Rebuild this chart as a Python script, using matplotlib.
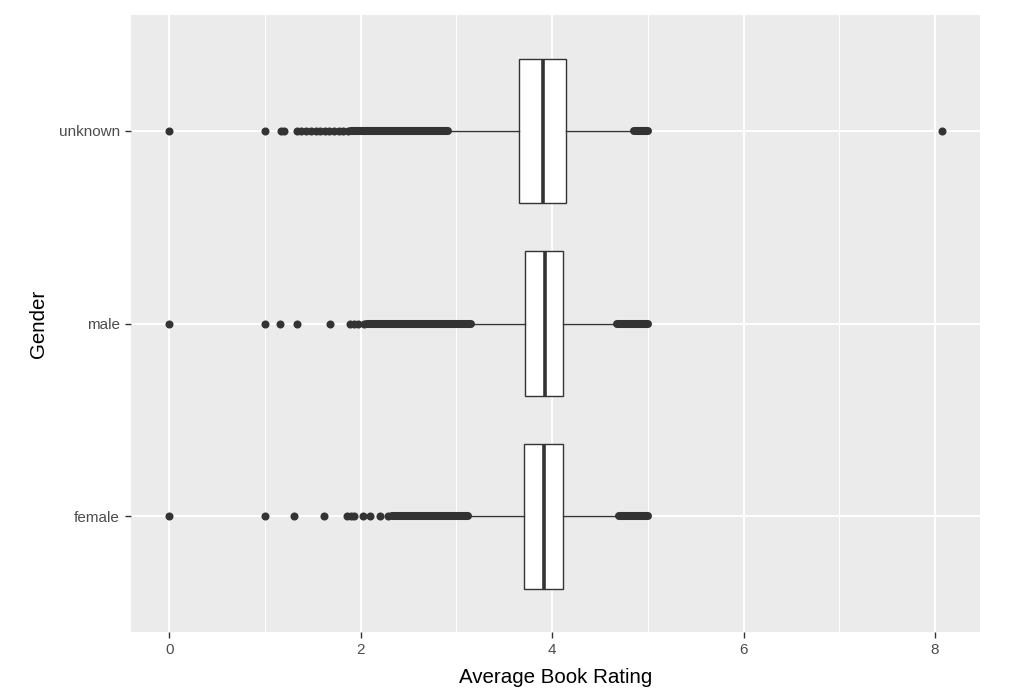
import matplotlib
matplotlib.use("Agg")
import matplotlib.pyplot as plt
from matplotlib.ticker import MultipleLocator

plt.rcParams['font.family'] = ['Liberation Sans', 'DejaVu Sans']

# gender groups, bottom to top
genders = ["female", "male", "unknown"]

# box statistics (q1, median, q3, whisker low, whisker high)
q1 = [3.71, 3.72, 3.65]
medians = [3.91, 3.93, 3.90]
q3 = [4.11, 4.11, 4.14]
whisk_lo = [3.13, 3.16, 2.93]
whisk_hi = [4.70, 4.68, 4.86]

# single outliers
outliers = {
    "female": [0.0, 1.0, 1.30, 1.62, 1.86, 1.90, 1.93, 2.02, 2.10, 2.20, 2.29],
    "male": [0.0, 1.0, 1.16, 1.33, 1.68, 1.89, 1.93, 1.97, 2.03],
    "unknown": [0.0, 1.0, 1.17, 1.20, 1.33, 1.38, 1.43, 1.48, 1.53, 1.58,
                1.63, 1.67, 1.72, 1.77, 1.82, 1.87, 8.07],
}
# runs of outliers so dense they merge into a bar (low, high)
dense_runs = {
    "female": [(2.33, 3.12), (4.70, 5.0)],
    "male": [(2.07, 3.15), (4.68, 5.0)],
    "unknown": [(1.90, 2.91), (4.86, 5.0)],
}

fig = plt.figure(figsize=(10.23, 6.90), dpi=100)
ax = fig.add_axes([0.128, 0.084, 0.83, 0.894])
ax.set_facecolor("#EBEBEB")

stats = []
for i, g in enumerate(genders):
    stats.append({"label": g, "q1": q1[i], "med": medians[i], "q3": q3[i],
                  "whislo": whisk_lo[i], "whishi": whisk_hi[i], "fliers": []})

dark = "#333333"
ax.bxp(stats, positions=[1, 2, 3], widths=0.75, vert=False, showcaps=False,
       showfliers=False, patch_artist=True,
       boxprops=dict(facecolor="white", edgecolor=dark, linewidth=1.0),
       whiskerprops=dict(color=dark, linewidth=1.0),
       medianprops=dict(color=dark, linewidth=2.6), zorder=3)

for i, g in enumerate(genders):
    ys = [i + 1] * len(outliers[g])
    ax.plot(outliers[g], ys, "o", color=dark, ms=5.8, mew=0, zorder=4)
    for lo, hi in dense_runs[g]:
        ax.plot([lo, hi], [i + 1, i + 1], color=dark, lw=5.8,
                solid_capstyle="round", zorder=4)

ax.set_xlim(-0.40, 8.47)
ax.set_ylim(0.4, 3.6)
ax.xaxis.set_major_locator(MultipleLocator(2))
ax.xaxis.set_minor_locator(MultipleLocator(1))
ax.set_yticks([1, 2, 3])
ax.set_yticklabels(genders)

ax.grid(which="major", color="white", linewidth=1.4, zorder=0)
ax.grid(which="minor", axis="x", color="white", linewidth=0.7, zorder=0)
ax.set_axisbelow(True)
for s in ax.spines.values():
    s.set_visible(False)
ax.tick_params(which="major", length=4, width=1, color=dark,
               labelcolor="#4D4D4D", labelsize=11, pad=4)
ax.tick_params(which="minor", length=0)

ax.set_xlabel("Average Book Rating", fontsize=14.8, labelpad=8)
ax.set_ylabel("Gender", fontsize=14.8, labelpad=8)

fig.savefig("out.png", dpi=100)
